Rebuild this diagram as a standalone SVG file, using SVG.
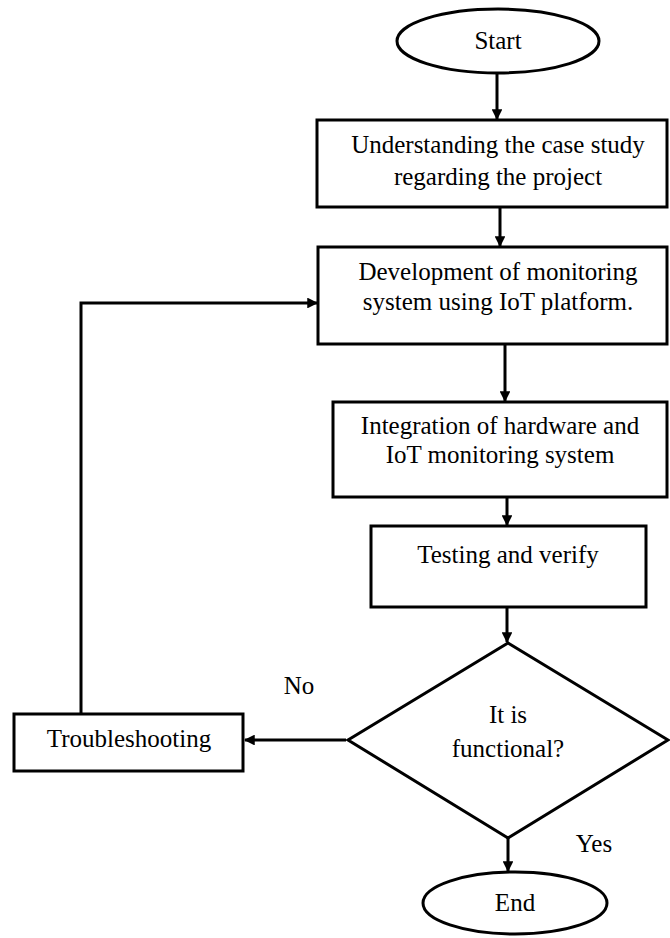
<svg xmlns="http://www.w3.org/2000/svg" width="670" height="938" viewBox="0 0 670 938">
<defs>
<marker id="ah" viewBox="0 0 10 10" refX="9" refY="5" markerWidth="3.6" markerHeight="3.6" orient="auto" markerUnits="strokeWidth">
<path d="M0,0 L10,5 L0,10 z" fill="#000"/>
</marker>
</defs>
<style>
.s{fill:#fff;stroke:#000;stroke-width:3}
.t{font-family:"Liberation Serif","Times New Roman",serif;font-size:25px;fill:#000;text-anchor:middle}
.c{fill:none;stroke:#000;stroke-width:3;marker-end:url(#ah)}
</style>
<rect width="670" height="938" fill="#fff"/>
<g id="start"><ellipse class="s" cx="498" cy="41" rx="101" ry="32"/><text class="t" x="498" y="49">Start</text></g>
<g id="case"><rect class="s" x="317" y="120" width="350" height="87"/><text class="t" x="498" y="153">Understanding the case study</text><text class="t" x="498" y="185">regarding the project</text></g>
<g id="dev"><rect class="s" x="318" y="247" width="349" height="97"/><text class="t" x="498" y="280">Development of monitoring</text><text class="t" x="498" y="310">system using IoT platform.</text></g>
<g id="integ"><rect class="s" x="333" y="402" width="334" height="95"/><text class="t" x="500" y="434">Integration of hardware and</text><text class="t" x="500" y="463">IoT monitoring system</text></g>
<g id="test"><rect class="s" x="371" y="526" width="275" height="81"/><text class="t" x="508" y="563">Testing and verify</text></g>
<g id="decision"><polygon class="s" points="508,643 668,740 508,838 348,740"/><text class="t" x="508" y="723">It is</text><text class="t" x="508" y="757">functional?</text></g>
<g id="trouble"><rect class="s" x="14" y="714" width="229" height="57"/><text class="t" x="129" y="747">Troubleshooting</text></g>
<g id="end"><ellipse class="s" cx="515" cy="903" rx="92" ry="31"/><text class="t" x="515" y="911">End</text></g>
<g id="connectors">
<line class="c" x1="497" y1="73" x2="497" y2="119"/>
<line class="c" x1="500" y1="207" x2="500" y2="246"/>
<line class="c" x1="505" y1="344" x2="505" y2="401"/>
<line class="c" x1="507" y1="497" x2="507" y2="525"/>
<line class="c" x1="507" y1="607" x2="507" y2="642"/>
<line class="c" x1="346" y1="740" x2="245" y2="740"/>
<line class="c" x1="508" y1="838" x2="508" y2="871"/>
<polyline class="c" points="81,714 81,303 317,303"/>
<text class="t" x="299" y="694">No</text>
<text class="t" x="594" y="852">Yes</text>
</g>
</svg>
